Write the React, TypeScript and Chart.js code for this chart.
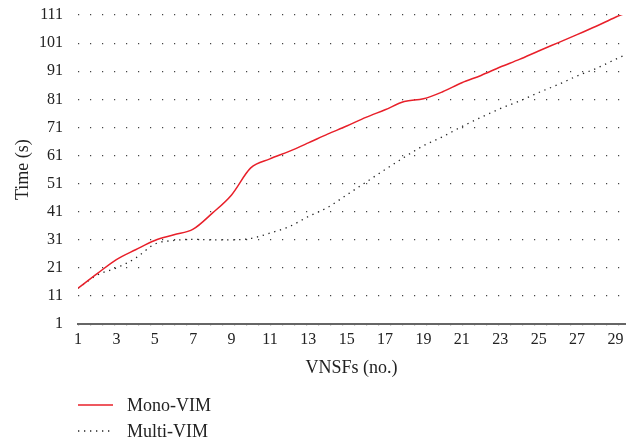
import React, { useEffect, useRef } from "react";
import { Chart, registerables } from "chart.js";

Chart.register(...registerables);

const xValues = [1, 2, 3, 4, 5, 6, 7, 8, 9, 10, 11, 12, 13, 14, 15, 16, 17, 18, 19, 20, 21, 22, 23, 24, 25, 26, 27, 28, 29, 29.5];
const monoVim = [13.8, 19, 24, 27.5, 30.8, 32.8, 34.8, 40.5, 47, 56.6, 59.8, 62.5, 65.5, 68.6, 71.5, 74.6, 77.3, 80.2, 81.2, 83.7, 86.9, 89.5, 92.5, 95.2, 98.2, 101.1, 104, 107, 110.2, 111.6];
const multiVim = [13.8, 18.5, 21, 24.5, 29.5, 30.8, 31.2, 31, 31, 31.5, 33.4, 35.7, 39.3, 42.5, 47, 51.5, 56, 60.4, 64.5, 67.7, 71.3, 74.6, 77.7, 80.4, 83.4, 86.2, 89.3, 92, 95.2, 96.8];
const xTicks = [1, 3, 5, 7, 9, 11, 13, 15, 17, 19, 21, 23, 25, 27, 29];
const yTicks = [1, 11, 21, 31, 41, 51, 61, 71, 81, 91, 101, 111];
const seriesLabels = ["Mono-VIM", "Multi-VIM"];
const xTitle = "VNSFs (no.)";
const yTitle = "Time (s)";

const FONT = '"Liberation Serif", "Times New Roman", serif';

const legendPlugin = {
  id: "vlegend",
  afterDraw(chart: any) {
    const ctx = chart.ctx;
    const x0 = chart.chartArea.left;
    const ys = [chart.height - 35, chart.height - 9];
    chart.data.datasets.forEach((ds: any, i: number) => {
      const y = ys[i];
      ctx.save();
      ctx.strokeStyle = ds.borderColor;
      ctx.lineWidth = ds.borderWidth;
      ctx.setLineDash(ds.borderDash || []);
      ctx.beginPath();
      ctx.moveTo(x0, y);
      ctx.lineTo(x0 + 35, y);
      ctx.stroke();
      ctx.setLineDash([]);
      ctx.fillStyle = "#222";
      ctx.font = `18px ${FONT}`;
      ctx.textBaseline = "middle";
      ctx.textAlign = "left";
      ctx.fillText(ds.label, x0 + 49, y + 1);
      ctx.restore();
    });
  },
};

export default function App() {
  const ref = useRef<HTMLCanvasElement>(null);
  useEffect(() => {
    document.body.style.margin = "0";
    const chart = new Chart(ref.current!, {
      type: "line",
      data: {
        datasets: [
          {
            label: seriesLabels[0],
            data: xValues.map((x, i) => ({ x, y: monoVim[i] })),
            borderColor: "#e8202a",
            borderWidth: 1.5,
            pointRadius: 0,
            cubicInterpolationMode: "monotone",
            fill: false,
          },
          {
            label: seriesLabels[1],
            data: xValues.map((x, i) => ({ x, y: multiVim[i] })),
            borderColor: "#222",
            borderWidth: 1.3,
            borderDash: [1.3, 4.7],
            pointRadius: 0,
            cubicInterpolationMode: "monotone",
            fill: false,
          },
        ],
      },
      options: {
        animation: false,
        responsive: true,
        maintainAspectRatio: false,
        layout: { padding: { left: 0, right: 13, top: 15, bottom: 61 } },
        plugins: { legend: { display: false }, tooltip: { enabled: false } },
        scales: {
          x: {
            type: "linear",
            min: 1,
            max: 29.5,
            afterBuildTicks: (s: any) => {
              s.ticks = xTicks.map((v) => ({ value: v }));
            },
            grid: { display: false, drawTicks: false },
            border: { display: true, color: "#666", width: 2 },
            ticks: {
              padding: 5.5,
              color: "#222",
              font: { family: FONT, size: 16 },
              maxRotation: 0,
              autoSkip: false,
            },
            title: {
              display: true,
              text: xTitle,
              color: "#222",
              font: { family: FONT, size: 18 },
              padding: { top: 3, bottom: 0 },
            },
          },
          y: {
            type: "linear",
            min: 1,
            max: 111,
            afterBuildTicks: (s: any) => {
              s.ticks = yTicks.map((v) => ({ value: v }));
            },
            afterFit: (s: any) => {
              s.width = 78;
              s.paddingTop = 0;
              s.paddingBottom = 0;
            },
            grid: { display: true, drawTicks: false, color: "#444", lineWidth: 1.2 },
            border: { display: false, dash: [1.2, 10.8] },
            ticks: {
              padding: 15,
              color: "#222",
              font: { family: FONT, size: 16 },
            },
            title: {
              display: true,
              text: yTitle,
              color: "#222",
              font: { family: FONT, size: 18 },
              padding: { top: 12, bottom: 0 },
            },
          },
        },
      },
      plugins: [legendPlugin],
    });
    return () => chart.destroy();
  }, []);
  return (
    <div style={{ width: 638, height: 440, position: "relative" }}>
      <canvas ref={ref} />
    </div>
  );
}
